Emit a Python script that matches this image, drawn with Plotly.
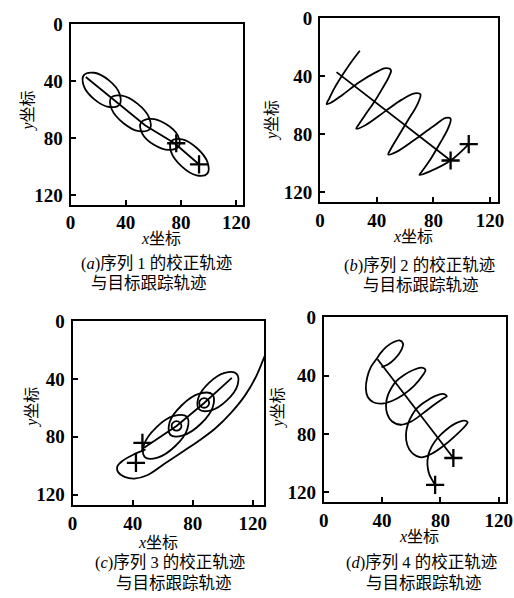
import plotly.graph_objects as go

W, H = 514, 598

TICK_VALUES = [0, 40, 80, 120]
TICK_LABELS = ["0", "40", "80", "120"]
X_TITLE = "<i>x</i>坐标"
Y_TITLE = "<i>y</i>坐标"
CAPTION_1 = ["(<i>a</i>)序列 1 的校正轨迹", "(<i>b</i>)序列 2 的校正轨迹",
             "(<i>c</i>)序列 3 的校正轨迹", "(<i>d</i>)序列 4 的校正轨迹"]
CAPTION_2 = ["与目标跟踪轨迹", "与目标跟踪轨迹", "与目标跟踪轨迹", "与目标跟踪轨迹"]

# ---------------- panel (a) ----------------
A_LINE_X = [11.0, 32.5, 54.1, 75.3, 92.9]
A_LINE_Y = [37.0, 54.1, 71.1, 83.6, 98.4]
A_PLUS_X = [76.5, 93.0]
A_PLUS_Y = [83.6, 98.4]
A_ELL1_X = [35.4, 27.9, 17.2, 9.6, 9.6, 17.1, 27.8, 35.4, 35.4]
A_ELL1_Y = [56.4, 58.1, 52.7, 43.4, 35.7, 34.0, 39.4, 48.7, 56.4]
A_ELL2_X = [57.3, 49.5, 38.1, 29.7, 29.3, 37.1, 48.6, 56.9, 57.3]
A_ELL2_Y = [73.6, 75.1, 69.3, 59.5, 51.6, 50.1, 55.9, 65.7, 73.6]
A_ELL3_X = [78.5, 71.4, 60.4, 51.9, 50.9, 58.0, 69.0, 77.5, 78.5]
A_ELL3_Y = [85.5, 88.3, 84.7, 76.8, 69.2, 66.4, 70.0, 77.9, 85.5]
A_ELL4_X = [99.0, 91.2, 80.4, 72.8, 73.0, 80.8, 91.6, 99.2, 99.0]
A_ELL4_Y = [105.0, 106.2, 99.9, 89.8, 82.0, 80.8, 87.1, 97.2, 105.0]

# ---------------- panel (b) ----------------
B_CURVE_X = [28.0, 21.5, 15.3, 10.0, 6.5, 4.6, 7.6, 15.7, 27.3, 38.9, 46.3, 50.0,
             48.6, 44.0, 38.4, 31.9, 26.9, 25.5, 31.9, 45.8, 57.4, 66.7, 70.8,
             68.5, 62.0, 55.1, 50.0, 48.1, 53.9, 66.7, 79.4, 88.7, 92.1,
             90.3, 84.7, 77.8, 71.8, 70.1, 77.1, 92.1, 104.9]
B_CURVE_Y = [22.6, 31.0, 40.0, 48.5, 55.3, 59.3, 58.4, 53.0, 44.5, 37.7, 34.6, 35.9,
             40.4, 48.5, 57.5, 66.6, 73.8, 76.2, 73.8, 64.3, 56.4, 51.9, 52.6,
             59.8, 70.4, 81.6, 90.0, 94.0, 92.2, 83.9, 74.9, 68.8, 69.3,
             76.0, 86.1, 97.4, 105.7, 108.0, 105.7, 98.1, 86.8]
B_LINE_X = [11.6, 92.1]
B_LINE_Y = [37.3, 98.1]
B_PLUS_X = [92.1, 104.9]
B_PLUS_Y = [98.1, 86.8]

# ---------------- panel (c) ----------------
C_BIG_X = [48.6, 41.1, 33.5, 29.8, 30.3, 34.6, 41.1, 49.7, 62.7, 73.5, 84.3,
           95.1, 105.9, 114.6, 122.2, 127.6, 129.7]
C_BIG_Y = [88.7, 92.0, 96.5, 100.6, 104.4, 107.7, 108.9, 106.6, 97.6, 90.2, 82.6,
           74.1, 62.9, 51.7, 38.2, 24.8, 19.2]
C_ELL1_X = [76.0, 76.4, 68.4, 56.6, 48.0, 47.6, 55.6, 67.4, 76.0]
C_ELL1_Y = [66.0, 74.6, 86.4, 94.4, 94.0, 85.4, 73.6, 65.6, 66.0]
C_ELL2_X = [93.0, 93.4, 85.4, 73.6, 65.0, 64.6, 72.7, 84.4, 93.0]
C_ELL2_Y = [50.6, 59.2, 71.0, 79.0, 78.6, 70.0, 58.2, 50.2, 50.6]
C_ELL3_X = [109.2, 109.8, 102.7, 92.2, 84.3, 83.7, 90.8, 101.3, 109.2]
C_ELL3_Y = [36.4, 44.3, 54.8, 61.7, 61.1, 53.2, 42.7, 35.8, 36.4]
C_RING1_X = [72.5, 71.5, 69.2, 66.9, 65.9, 66.9, 69.2, 71.5, 72.5]
C_RING1_Y = [72.5, 74.8, 75.8, 74.8, 72.5, 70.2, 69.2, 70.2, 72.5]
C_RING2_X = [90.9, 89.9, 87.6, 85.3, 84.3, 85.3, 87.6, 89.9, 90.9]
C_RING2_Y = [56.6, 58.9, 59.9, 58.9, 56.6, 54.3, 53.3, 54.3, 56.6]
C_LINE_X = [47.6, 69.2, 87.6, 106.0]
C_LINE_Y = [87.6, 72.5, 56.6, 39.2]
C_PLUS_X = [46.5, 42.2]
C_PLUS_Y = [84.2, 98.1]

# ---------------- panel (d) ----------------
D_CURVE_X = [39.6, 44.0, 48.9, 52.9, 54.4, 52.0, 48.0, 42.9, 39.1, 36.2,
             32.4, 29.8, 28.9, 30.2, 34.0, 40.0,
             46.7, 54.0, 61.8, 68.0, 69.8, 67.1, 61.8, 55.1, 49.6, 46.7,
             44.0, 42.7, 43.6, 46.7, 52.9,
             60.0, 68.0, 76.2, 82.2, 84.4, 81.8, 76.2, 69.6, 64.0, 60.7,
             57.8, 56.4, 57.3, 60.7, 66.7,
             74.0, 82.9, 91.8, 97.3, 98.7, 96.2, 90.7, 84.0, 77.8, 74.0,
             71.8, 71.1, 72.4, 75.1, 76.4]
D_CURVE_Y = [34.2, 32.4, 28.4, 23.0, 18.1, 15.9, 17.0, 20.3, 24.4, 28.6,
             34.0, 41.3, 48.9, 54.7, 58.3, 59.2,
             57.4, 53.4, 47.2, 39.6, 36.2, 34.6, 36.0, 39.6, 44.0, 48.0,
             53.4, 60.1, 66.4, 71.3, 73.7,
             71.5, 65.9, 59.7, 55.6, 54.1, 52.5, 54.1, 57.9, 62.3, 66.8,
             73.1, 80.2, 87.6, 93.2, 96.1,
             93.6, 87.6, 79.8, 74.2, 72.0, 70.8, 72.6, 77.1, 83.1, 88.7,
             94.3, 101.0, 107.7, 112.8, 114.9]
D_LINE_X = [36.9, 88.9]
D_LINE_Y = [28.8, 96.5]
D_PLUS_X = [88.9, 76.4]
D_PLUS_Y = [96.5, 114.9]

# ---------------- layout geometry (pixels) ----------------
PANELS = [
    dict(l=67.3, r=244.0, t=14.7, b=198.3, xmax=124.7, ymax=126.8),
    dict(l=323.3, r=506.0, t=8.0, b=195.7, xmax=125.7, ymax=126.7),
    dict(l=69.3, r=266.0, t=317.0, b=504.7, xmax=127.6, ymax=127.5),
    dict(l=327.0, r=514.0, t=313.0, b=501.3, xmax=125.0, ymax=126.7),
]
XTITLE_POS = [(160, 233), (419, 231), (157, 542), (425, 536)]
YTITLE_POS = [(24, 103), (274, 113), (27, 405), (280, 405)]
CAP1_POS = [(155, 258), (425, 260), (169, 563), (427, 563)]
CAP2_POS = [(148, 279), (427, 281), (173, 584), (430, 584)]

LINE_W = 1.8
fig = go.Figure()


def axes_of(k):
    return ("x" if k == 0 else f"x{k+1}", "y" if k == 0 else f"y{k+1}")


def add_line(k, xs, ys, shape="spline"):
    xa, ya = axes_of(k)
    fig.add_trace(go.Scatter(
        x=xs, y=ys, mode="lines",
        line=dict(color="black", width=LINE_W, shape=shape, smoothing=1.0),
        xaxis=xa, yaxis=ya, showlegend=False, hoverinfo="skip"))


def add_plus(k, xs, ys):
    xa, ya = axes_of(k)
    fig.add_trace(go.Scatter(
        x=xs, y=ys, mode="markers",
        marker=dict(symbol="cross-thin", size=13, color="black",
                    line=dict(color="black", width=2.3)),
        xaxis=xa, yaxis=ya, showlegend=False, hoverinfo="skip"))


for ex, ey in [(A_ELL1_X, A_ELL1_Y), (A_ELL2_X, A_ELL2_Y),
               (A_ELL3_X, A_ELL3_Y), (A_ELL4_X, A_ELL4_Y)]:
    add_line(0, ex, ey)
add_line(0, A_LINE_X, A_LINE_Y, "linear")
add_plus(0, A_PLUS_X, A_PLUS_Y)

add_line(1, B_CURVE_X, B_CURVE_Y)
add_line(1, B_LINE_X, B_LINE_Y, "linear")
add_plus(1, B_PLUS_X, B_PLUS_Y)

add_line(2, C_BIG_X, C_BIG_Y)
for ex, ey in [(C_ELL1_X, C_ELL1_Y), (C_ELL2_X, C_ELL2_Y), (C_ELL3_X, C_ELL3_Y),
               (C_RING1_X, C_RING1_Y), (C_RING2_X, C_RING2_Y)]:
    add_line(2, ex, ey)
add_line(2, C_LINE_X, C_LINE_Y, "linear")
add_plus(2, C_PLUS_X, C_PLUS_Y)

add_line(3, D_CURVE_X, D_CURVE_Y)
add_line(3, D_LINE_X, D_LINE_Y, "linear")
add_plus(3, D_PLUS_X, D_PLUS_Y)

TICK_FONT = dict(family="Liberation Serif", size=19, color="black", weight="bold")
layout = dict(
    width=W, height=H,
    margin=dict(l=0, r=0, t=0, b=0),
    paper_bgcolor="white", plot_bgcolor="white",
    showlegend=False,
)
for k, p in enumerate(PANELS):
    xname = "xaxis" if k == 0 else f"xaxis{k+1}"
    yname = "yaxis" if k == 0 else f"yaxis{k+1}"
    xref, yref = axes_of(k)
    common = dict(showline=True, mirror=True, linecolor="black", linewidth=2,
                  ticks="inside", ticklen=5, tickwidth=2, tickcolor="black",
                  showgrid=False, zeroline=False, tickvals=TICK_VALUES,
                  ticktext=TICK_LABELS, tickfont=TICK_FONT, fixedrange=True)
    layout[xname] = dict(domain=[p["l"] / W, p["r"] / W], range=[0, p["xmax"]],
                         anchor=yref, **common)
    layout[yname] = dict(domain=[1 - p["b"] / H, 1 - p["t"] / H],
                         range=[p["ymax"], 0], anchor=xref, ticklabelstandoff=2,
                         **common)

ann = []
TEXT_FAMILY = "Liberation Serif, Noto Sans CJK SC"
for k in range(4):
    items = [(XTITLE_POS[k], X_TITLE, 0, 16), (YTITLE_POS[k], Y_TITLE, -90, 16),
             (CAP1_POS[k], CAPTION_1[k], 0, 16.5), (CAP2_POS[k], CAPTION_2[k], 0, 16.5)]
    for (xt, yt), txt, ang, fs in items:
        ann.append(dict(x=xt / W, y=1 - yt / H, xref="paper", yref="paper", text=txt,
                        showarrow=False, xanchor="center", yanchor="middle",
                        textangle=ang, align="center",
                        font=dict(family=TEXT_FAMILY, size=fs, color="black")))
layout["annotations"] = ann
fig.update_layout(**layout)
fig.write_html("out.html", config={"displayModeBar": False},
               post_script="document.body.style.margin='0';document.body.style.overflow='hidden';")
